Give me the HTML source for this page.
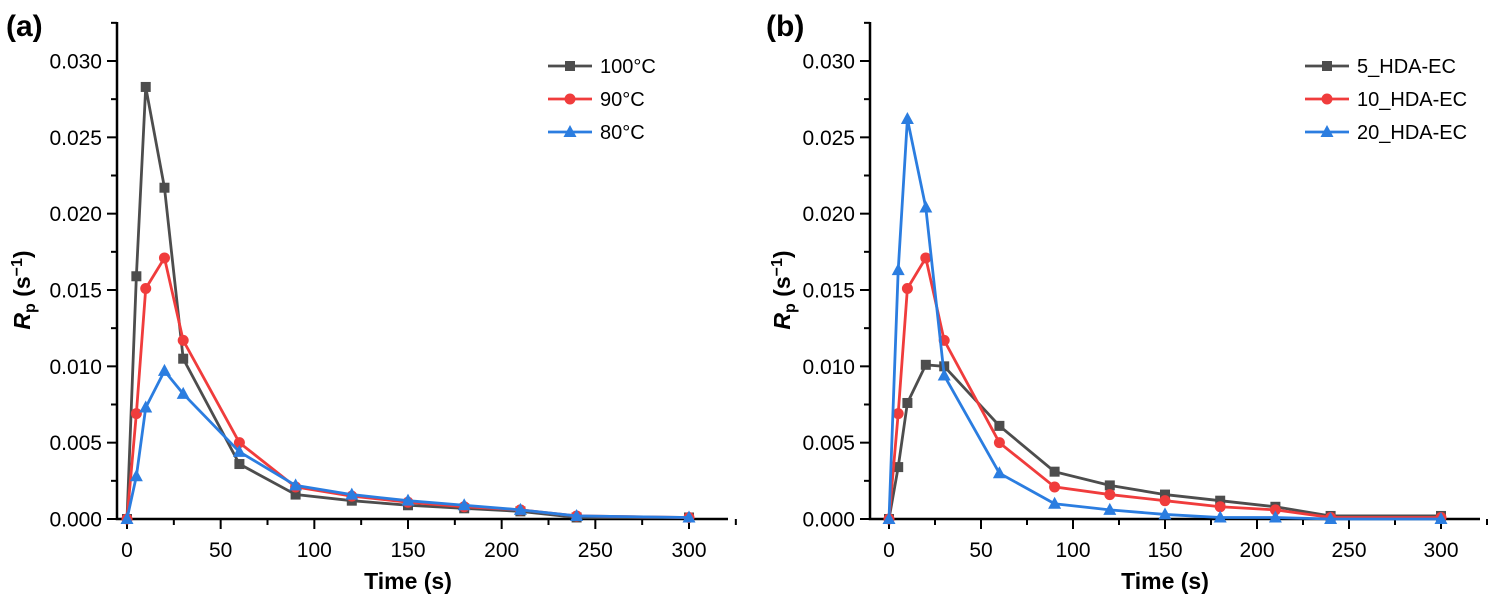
<!DOCTYPE html>
<html><head><meta charset="utf-8"><style>
body{margin:0;background:#fff}
svg{display:block;font-family:"Liberation Sans",Arial,sans-serif}
</style></head><body>
<svg id="c" width="1499" height="605" viewBox="0 0 1499 605"></svg>
<script>
const times=[0,5,10,20,30,60,90,120,150,180,210,240,300];
const seriesA100=[0,0.0159,0.0283,0.0217,0.0105,0.0036,0.0016,0.0012,0.0009,0.0007,0.0005,0.0001,0.0001];
const seriesA90=[0,0.0069,0.0151,0.0171,0.0117,0.0050,0.0021,0.0015,0.0011,0.0008,0.0006,0.0002,0.0001];
const seriesA80=[0,0.0028,0.0073,0.0097,0.0082,0.0044,0.0022,0.0016,0.0012,0.0009,0.0006,0.0002,0.0001];
const seriesB5=[0,0.0034,0.0076,0.0101,0.0100,0.0061,0.0031,0.0022,0.0016,0.0012,0.0008,0.0002,0.0002];
const seriesB10=[0,0.0069,0.0151,0.0171,0.0117,0.0050,0.0021,0.0016,0.0012,0.0008,0.0006,0.0001,0.0001];
const seriesB20=[0,0.0163,0.0262,0.0204,0.0094,0.0030,0.0010,0.0006,0.0003,0.0001,0.0001,0,0];
const namesA=["100°C","90°C","80°C"];
const namesB=["5_HDA-EC","10_HDA-EC","20_HDA-EC"];
const xTicks=[0,50,100,150,200,250,300];
const yTicks=[0,0.005,0.010,0.015,0.020,0.025,0.030];
const colors=["#4d4d4d","#f03c3c","#2b7de0"];
const NS="http://www.w3.org/2000/svg";
const svg=document.getElementById('c');
function mk(tag,attrs,parent){const e=document.createElementNS(NS,tag);for(const k in attrs)e.setAttribute(k,attrs[k]);(parent||svg).appendChild(e);return e;}
function panel(p){
  const g=mk('g',{});
  
  
  const X=t=>p.x0+(t)*(p.x300-p.x0)/300;
  const Y=v=>519-v*(519-61)/0.030;
  const ax=mk('path',{d:`M${p.ax},22 L${p.ax},519 L${p.axEnd},519`,stroke:'#000','stroke-width':2.5,fill:'none'},g);
  
  
  for(let t=0;t<=325;t+=25){const maj=t%50===0;mk('line',{x1:X(t),x2:X(t),y1:519,y2:maj?529:525,stroke:'#000','stroke-width':2},g);}
  for(let v=0;v<=0.0326;v+=0.0025){const maj=Math.round(v*10000)%50===0;mk('line',{x1:p.ax,x2:p.ax-(maj?10:6),y1:Y(v),y2:Y(v),stroke:'#000','stroke-width':2},g);}
  xTicks.forEach(t=>{const e=mk('text',{x:X(t),y:557,'font-size':21,'text-anchor':'middle'},g);e.textContent=t;
    });
  yTicks.forEach(v=>{const e=mk('text',{x:p.ax-15,y:Y(v)+7.5,'font-size':21,'text-anchor':'end'},g);e.textContent=v.toFixed(3);
    });
  const xt=mk('text',{x:p.xtitle,y:589,'font-size':23,'font-weight':'bold','text-anchor':'middle'},g);xt.textContent='Time (s)';
  
  const yt=mk('text',{transform:`translate(${p.ytitle},290) rotate(-90)`,'font-size':23,'font-weight':'bold','text-anchor':'middle'},g);
  yt.innerHTML='<tspan font-style="italic">R</tspan><tspan font-size="16" dy="5">p</tspan><tspan dy="-5"> (s</tspan><tspan font-size="16" dy="-8">−1</tspan><tspan dy="8">)</tspan>';
  
  const lab=mk('text',{x:p.labx,y:36,'font-size':30,'font-weight':'bold'},g);lab.textContent=p.label;
  
  const shapes=['sq','ci','tr'];
  function marker(sh,x,y,c,par){
    if(sh==='sq')return mk('rect',{x:x-5,y:y-5,width:10,height:10,fill:c},par);
    if(sh==='ci')return mk('circle',{cx:x,cy:y,r:5.5,fill:c},par);
    return mk('path',{d:`M${x},${y-7} L${x+6.5},${y+5} L${x-6.5},${y+5} Z`,fill:c},par);
  }
  p.series.forEach((s,i)=>{
    const sg=mk('g',{},g);
    
    
    const pts=times.map((t,j)=>X(t)+','+Y(s[j])).join(' ');
    mk('polyline',{points:pts,fill:'none',stroke:colors[i],'stroke-width':2.8},sg);
    times.forEach((t,j)=>{const m=marker(shapes[i],X(t),Y(s[j]),colors[i],sg);
      });
    const ly=66+i*33;
    const lg=mk('g',{},g);
    
    
    mk('line',{x1:p.lx,x2:p.lx+44,y1:ly,y2:ly,stroke:colors[i],'stroke-width':2.8},lg);
    marker(shapes[i],p.lx+22,ly,colors[i],lg);
    const tx=mk('text',{x:p.lx+52,y:ly+7,'font-size':20},lg);tx.textContent=p.names[i];
  });
}
panel({name:'panel-a',label:'(a)',labx:6,ax:117,axEnd:728,x0:127,x300:689,xtitle:408,ytitle:30,lx:548,names:namesA,series:[seriesA100,seriesA90,seriesA80]});
panel({name:'panel-b',label:'(b)',labx:766,ax:870,axEnd:1480,x0:889,x300:1441,xtitle:1165,ytitle:790,lx:1305,names:namesB,series:[seriesB5,seriesB10,seriesB20]});
</script>
</body></html>
